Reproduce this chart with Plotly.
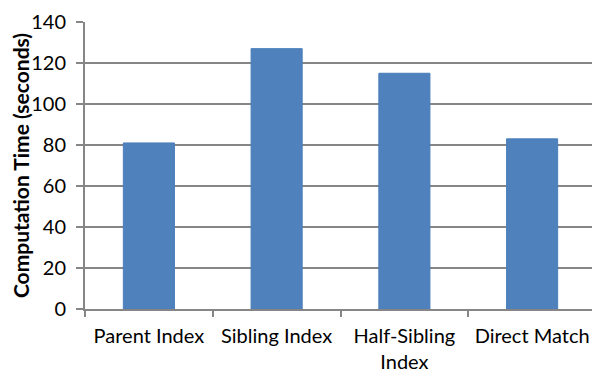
import plotly.graph_objects as go

categories = ["Parent Index", "Sibling Index", "Half-Sibling<br>Index", "Direct Match"]
values = [81, 127, 115, 83]
y_ticks = [0, 20, 40, 60, 80, 100, 120, 140]

fig = go.Figure(go.Bar(
    x=categories, y=values,
    marker=dict(color="#4F81BD", line=dict(color="#4A7EBB", width=1)),
))

font_family = "Lato, Open Sans, sans-serif"
fig.update_layout(
    width=592, height=372,
    margin=dict(l=77, r=4, t=14, b=71),
    paper_bgcolor="white", plot_bgcolor="white",
    bargap=0.6,
    showlegend=False,
    font=dict(family=font_family, size=20, color="#000000"),
)
fig.update_xaxes(
    automargin=False,
    showline=True, linecolor="#868686", linewidth=2,
    ticks="outside", tickson="boundaries", ticklen=6, tickcolor="#868686", tickwidth=2,
    showgrid=False,
    ticklabelstandoff=8,
    tickfont=dict(size=20, family=font_family),
)
fig.update_yaxes(
    automargin=False,
    range=[0, 140], tickvals=y_ticks,
    showline=True, linecolor="#868686", linewidth=2,
    ticks="outside", ticklen=7, tickcolor="#868686", tickwidth=2,
    showgrid=True, gridcolor="#868686", gridwidth=1.5,
    zeroline=False,
    ticklabelstandoff=6,
    tickfont=dict(size=20, family=font_family),
    title=dict(text="<b>Computation Time (seconds)</b>", font=dict(size=21, family=font_family), standoff=6),
)

fig.write_html("out.html")
